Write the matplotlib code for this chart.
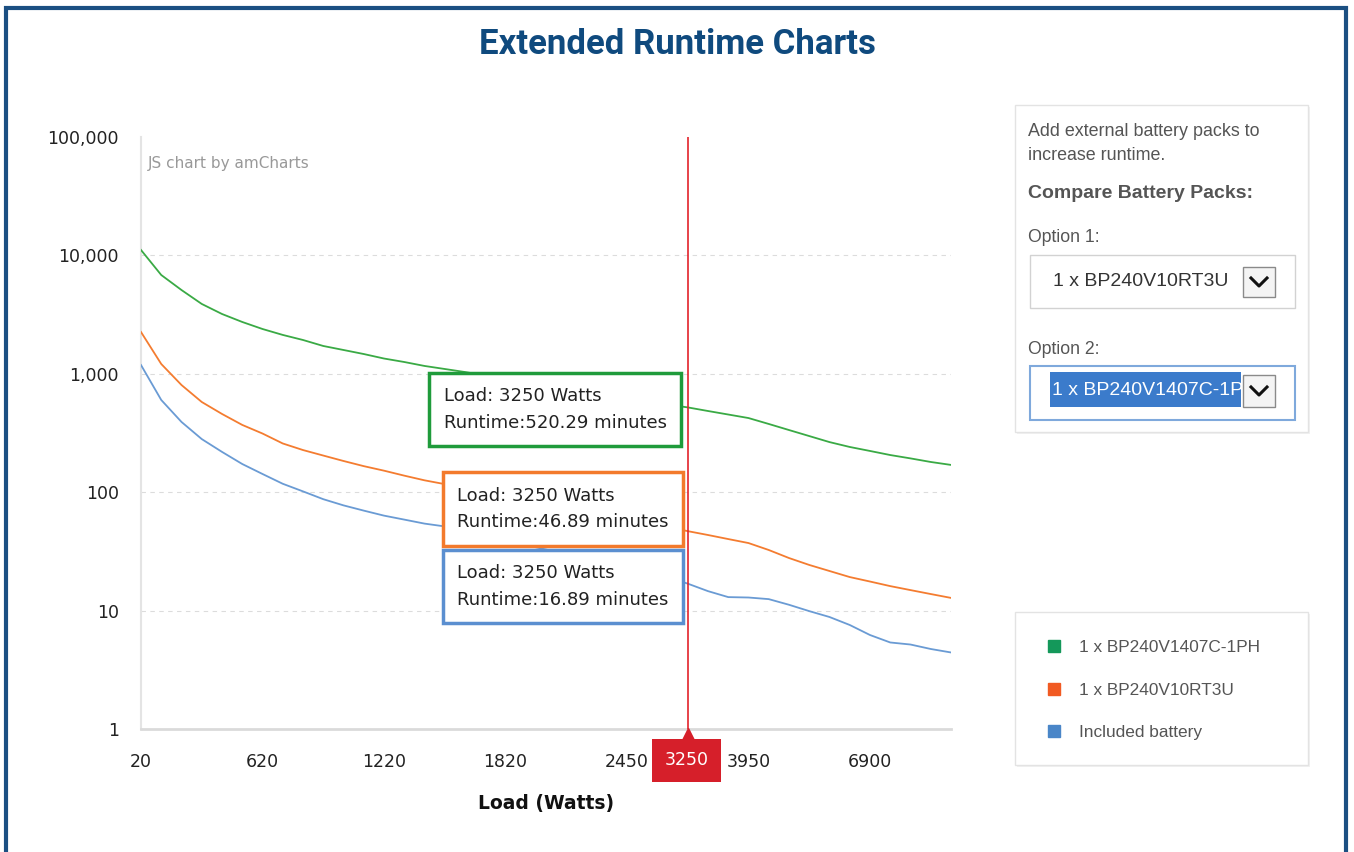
import matplotlib
matplotlib.use("Agg")
import matplotlib.pyplot as plt
import matplotlib.transforms as mtransforms
from matplotlib.patches import Rectangle
from matplotlib.lines import Line2D
from matplotlib.ticker import FixedLocator, FixedFormatter, NullLocator

# Load (Watts) categories, equally spaced on the axis
loads = [20, 120, 220, 320, 420, 520, 620, 720, 820, 920, 1020, 1120, 1220, 1320,
         1420, 1520, 1620, 1720, 1820, 1920, 2020, 2120, 2220, 2320, 2450, 2650,
         2950, 3250, 3450, 3700, 3950, 4400, 4900, 5400, 5900, 6400, 6900, 7400,
         7900, 8400, 8900]

# Runtime (minutes)
bp1407 = [11110, 6830, 5100, 3890, 3200, 2740, 2390, 2130, 1930, 1718,
          1589, 1469, 1346, 1258, 1165, 1098, 1035, 968, 904, 853,
          804, 751, 702, 662, 625, 589, 550, 520.29, 485, 453,
          423, 377, 335, 298, 265, 241, 223, 206, 193, 180, 170]
bp10rt = [2254, 1210, 804, 578, 458, 370, 313, 258, 227, 204,
          183.5, 166, 152, 138, 126, 117, 108.5, 100.4, 92.9, 85.9,
          79.5, 73.6, 68.0, 62.9, 58.2, 54.4, 50.8, 46.89, 43.5, 40.2,
          37.2, 32.5, 27.8, 24.3, 21.6, 19.2, 17.6, 16.1, 14.9, 13.8, 12.8]
included = [1186, 601, 392, 281, 219, 173, 142.5, 117.8, 101.6, 87.3,
            77.4, 69.9, 63.4, 58.7, 54.3, 51.4, 46.7, 42.7, 39.1, 35.8,
            32.8, 30.1, 27.5, 25.2, 23.1, 21.2, 19.2, 16.89, 14.6, 13.0,
            12.9, 12.5, 11.2, 9.9, 8.83, 7.56, 6.22, 5.38, 5.17, 4.74, 4.43]

series_names = ["1 x BP240V1407C-1PH", "1 x BP240V10RT3U", "Included battery"]
line_colors = ["#3aaa45", "#f47c30", "#6a9bd4"]
legend_colors = ["#14985a", "#f15a22", "#4a86c8"]
tick_idx = [0, 6, 12, 18, 24, 30, 36]
cursor_idx = 27
y_ticks = [1, 10, 100, 1000, 10000, 100000]
y_labels = ["1", "10", "100", "1,000", "10,000", "100,000"]

plt.rcParams["font.family"] = ["DejaVu Sans"]
W, H = 1354, 852
fig = plt.figure(figsize=(W / 100, H / 100), dpi=100)


def fx(x):
    return x / W


def fy(y):
    return 1 - y / H


def box(x0, y0, x1, y1, **kw):
    r = Rectangle((fx(x0), fy(y1)), fx(x1) - fx(x0), fy(y0) - fy(y1),
                  transform=fig.transFigure, **kw)
    fig.add_artist(r)
    return r


# outer frame + title
box(6, 8, 1346, 900, fc="none", ec="#1b4f82", lw=3)
fig.text(fx(677), fy(45), "Extended Runtime Charts", ha="center", va="center",
         fontsize=25, fontweight="bold", color="#0f4a7e",
         family=["Liberation Sans Narrow", "Roboto", "DejaVu Sans"])

ax = fig.add_axes([fx(141), fy(729), fx(951) - fx(141), fy(137) - fy(729)])
idx = list(range(len(loads)))
for vals, c in zip([included, bp10rt, bp1407], line_colors[::-1]):
    ax.plot(idx, vals, color=c, lw=1.3, zorder=3)

ax.set_yscale("log")
ax.set_ylim(1, 100000)
ax.set_xlim(0, len(loads) - 1)
ax.yaxis.set_major_locator(FixedLocator(y_ticks))
ax.yaxis.set_major_formatter(FixedFormatter(y_labels))
ax.yaxis.set_minor_locator(NullLocator())
ax.set_xticks(tick_idx)
ax.set_xticklabels([str(loads[i]) for i in tick_idx])
ax.tick_params(axis="both", length=0, labelsize=12.5, labelcolor="#222")
ax.tick_params(axis="y", pad=16)
ax.tick_params(axis="x", pad=17)
for yv in y_ticks[1:-1]:
    ax.axhline(yv, ls=(0, (4, 4)), color="#dcdcdc", lw=0.8, zorder=1)
for s in ["top", "right"]:
    ax.spines[s].set_visible(False)
ax.spines["left"].set_color("#e4e4e4")
ax.spines["left"].set_linewidth(1.5)
ax.spines["bottom"].set_color("#dadada")
ax.spines["bottom"].set_linewidth(2)
ax.set_xlabel("Load (Watts)", fontsize=13.5, fontweight="bold", labelpad=17,
              color="#111")

ax.text(0.009, 0.956, "JS chart by amCharts", transform=ax.transAxes,
        fontsize=11, color="#999999", va="center")

# cursor
ax.axvline(cursor_idx, color="#e3222b", lw=1.2, zorder=4)
ax.annotate(str(loads[cursor_idx]), xy=(cursor_idx, 1), xytext=(-1, -31),
            textcoords="offset pixels", ha="center", va="center", fontsize=12.5,
            color="white", zorder=6, annotation_clip=False,
            bbox=dict(boxstyle="square,pad=0.72", fc="#d61f2a", ec="none"))
tri = mtransforms.offset_copy(ax.transData, fig=fig, x=0, y=-5, units="dots")
ax.plot([cursor_idx], [1], marker="^", ms=9, color="#d61f2a", transform=tri,
        clip_on=False, zorder=6)

# tooltips at the cursor
offsets = [-2, 22, -3]
lefts = [-21, -19, -19]
for vals, c, dy, dx in zip([bp1407, bp10rt, included],
                           ["#1f9b3b", "#f37a2c", "#5b8fd0"], offsets, lefts):
    v = vals[cursor_idx]
    ax.annotate(f"Load: {loads[cursor_idx]} Watts\nRuntime:{v:.2f} minutes",
                xy=(cursor_idx, v), xytext=(dx, dy), textcoords="offset pixels",
                ha="right", va="center", multialignment="left", fontsize=13,
                color="#222", linespacing=1.6, zorder=7,
                bbox=dict(boxstyle="square,pad=0.8", fc="white", ec=c, lw=2.5))

# right option panel
pf = ["Liberation Sans", "DejaVu Sans"]
box(1017, 107, 1310, 434, fc="#f1f1f1", ec="none")
box(1015, 105, 1308, 432, fc="white", ec="#e3e3e3", lw=1)
fig.text(fx(1028), fy(132), "Add external battery packs to", fontsize=12.9,
         color="#555", va="center", family=pf)
fig.text(fx(1028), fy(155), "increase runtime.", fontsize=12.9,
         color="#555", va="center", family=pf)
fig.text(fx(1028), fy(193), "Compare Battery Packs:", fontsize=14,
         fontweight="bold", color="#555", va="center", family=pf)
fig.text(fx(1028), fy(238), "Option 1:", fontsize=12.7, color="#555",
         va="center", family=pf)
box(1030, 255, 1295, 308, fc="white", ec="#d2d2d2", lw=1)
fig.text(fx(1053), fy(281), "1 x BP240V10RT3U", fontsize=14, color="#333",
         va="center", family=pf)
fig.text(fx(1028), fy(349), "Option 2:", fontsize=12.7, color="#555",
         va="center", family=pf)
box(1030, 366, 1295, 420, fc="white", ec="#7fa9dc", lw=1.5)
hl = box(1050, 372, 1241, 407, fc="#3b7bcb", ec="none")
t = fig.text(fx(1052), fy(390), "1 x BP240V1407C-1PH", fontsize=14, color="white",
             va="center", family=pf)
t.set_clip_path(hl)
for y0, y1 in [(267, 297), (375, 407)]:
    box(1243, y0, 1275, y1, fc="#f4f4f4", ec="#8a8a8a", lw=1)
    ym = (y0 + y1) / 2
    fig.add_artist(Line2D([fx(1251), fx(1259), fx(1267)],
                          [fy(ym - 4), fy(ym + 4), fy(ym - 4)],
                          transform=fig.transFigure, color="#111", lw=2.2))

# legend panel
box(1017, 614, 1310, 767, fc="#f1f1f1", ec="none")
box(1015, 612, 1308, 765, fc="white", ec="#e3e3e3", lw=1)
handles = [Line2D([], [], ls="none", marker="s", ms=8.5, color=c) for c in legend_colors]
fig.legend(handles, series_names, loc="upper left",
           bbox_to_anchor=(fx(1045), fy(640)), bbox_transform=fig.transFigure,
           frameon=False, borderpad=0, borderaxespad=0, handlelength=1.0,
           handletextpad=0.95, labelspacing=1.6, labelcolor="#555",
           prop={"family": pf, "size": 12.4})

fig.savefig("out.png", dpi=100)
